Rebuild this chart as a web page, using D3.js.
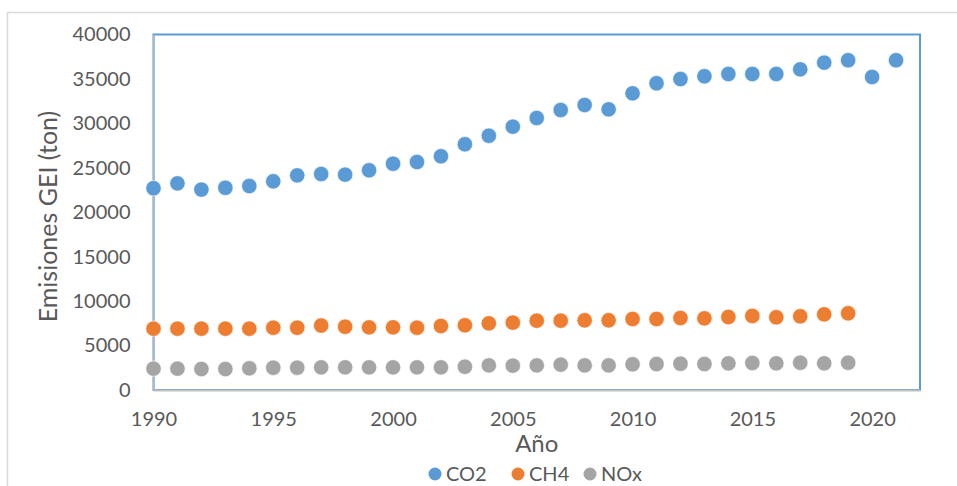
<html>
<head><meta charset="utf-8"/></head>
<script src="https://d3js.org/d3.v7.min.js"></script>
<style>
  body { margin: 0; background: #fff; }
  text { font-family: Lato, "Open Sans", sans-serif; fill: #595959; }
</style>
<body>
<svg id="chart" width="957" height="486"></svg>
<script>
// years for each series
var yearsCO2 = d3.range(1990, 2022);
var yearsOther = d3.range(1990, 2020);

var co2 = [22700, 23250, 22550, 22750, 22950, 23480, 24150, 24300, 24230, 24720,
           25460, 25650, 26300, 27650, 28610, 29630, 30600, 31500, 32070, 31580,
           33380, 34510, 34990, 35300, 35560, 35560, 35560, 36080, 36830, 37100,
           35220, 37100];
var ch4 = [6900, 6900, 6900, 6900, 6900, 7010, 7010, 7250, 7120, 7050,
           7050, 7010, 7200, 7280, 7500, 7580, 7800, 7800, 7840, 7840,
           7990, 7990, 8100, 8060, 8210, 8330, 8180, 8290, 8510, 8630];
var nox = [2400, 2400, 2360, 2360, 2440, 2510, 2510, 2550, 2550, 2550,
           2550, 2550, 2550, 2620, 2770, 2740, 2770, 2850, 2770, 2770,
           2890, 2920, 2960, 2920, 3000, 3040, 3000, 3070, 3000, 3070];

var seriesNames = ["CO2", "CH4", "NOx"];
var seriesColors = ["#5b9bd5", "#ed7d31", "#a5a5a5"];
var xTicks = [1990, 1995, 2000, 2005, 2010, 2015, 2020];
var yTicks = [0, 5000, 10000, 15000, 20000, 25000, 30000, 35000, 40000];

var svg = d3.select("#chart");

// outer chart border (runs off the right/bottom of the picture)
svg.append("rect")
  .attr("x", 7.5).attr("y", 12.5)
  .attr("width", 1000).attr("height", 600)
  .attr("fill", "none").attr("stroke", "#d9d9d9").attr("stroke-width", 1.5);

var plotLeft = 153.5, plotRight = 920, plotTop = 34.5, plotBottom = 390;

var x = d3.scaleLinear().domain([1990, 2022]).range([plotLeft, plotRight]);
var y = d3.scaleLinear().domain([0, 40000]).range([plotBottom, plotTop]);

// plot area outline
svg.append("rect")
  .attr("x", plotLeft).attr("y", plotTop)
  .attr("width", plotRight - plotLeft).attr("height", plotBottom - plotTop)
  .attr("fill", "none").attr("stroke", "#5b9bd5").attr("stroke-width", 2);

// axes
var yAxis = svg.append("g")
  .attr("transform", "translate(" + plotLeft + ",0)")
  .call(d3.axisLeft(y).tickValues(yTicks).tickSize(0).tickPadding(23).tickFormat(d3.format("d")));
yAxis.select(".domain").attr("stroke", "#adb9ca").attr("stroke-width", 2);
yAxis.selectAll("text").style("font-size", "20px").attr("fill", "#595959");

var xAxis = svg.append("g")
  .attr("transform", "translate(0," + plotBottom + ")")
  .call(d3.axisBottom(x).tickValues(xTicks).tickSize(0).tickPadding(22).tickFormat(d3.format("d")));
xAxis.select(".domain").attr("stroke", "#bfbfbf").attr("stroke-width", 2);
xAxis.selectAll("text").style("font-size", "20px").attr("fill", "#595959");

// axis titles
svg.append("text")
  .attr("x", (plotLeft + plotRight) / 2).attr("y", 452)
  .attr("text-anchor", "middle")
  .style("font-size", "24px")
  .text("Año");

svg.append("text")
  .attr("transform", "translate(57,216.5) rotate(-90)")
  .attr("text-anchor", "middle")
  .style("font-size", "25px")
  .text("Emisiones GEI (ton)");

// points
var allSeries = [
  {years: yearsCO2, values: co2},
  {years: yearsOther, values: ch4},
  {years: yearsOther, values: nox}
];

allSeries.forEach(function(s, i) {
  svg.append("g")
    .selectAll("circle")
    .data(s.values)
    .enter()
    .append("circle")
    .attr("cx", function(d, j) { return x(s.years[j]); })
    .attr("cy", function(d) { return y(d); })
    .attr("r", 7.7)
    .attr("fill", seriesColors[i])
    .attr("stroke", "#fff")
    .attr("stroke-width", 0.6);
});

// legend
var legendX = [435, 518, 590];
var legend = svg.append("g");
seriesNames.forEach(function(name, i) {
  legend.append("circle")
    .attr("cx", legendX[i]).attr("cy", 474)
    .attr("r", 6.5)
    .attr("fill", seriesColors[i]);
  legend.append("text")
    .attr("x", legendX[i] + 11).attr("y", 481)
    .style("font-size", "20px")
    .text(name);
});
</script>
</body>
</html>
